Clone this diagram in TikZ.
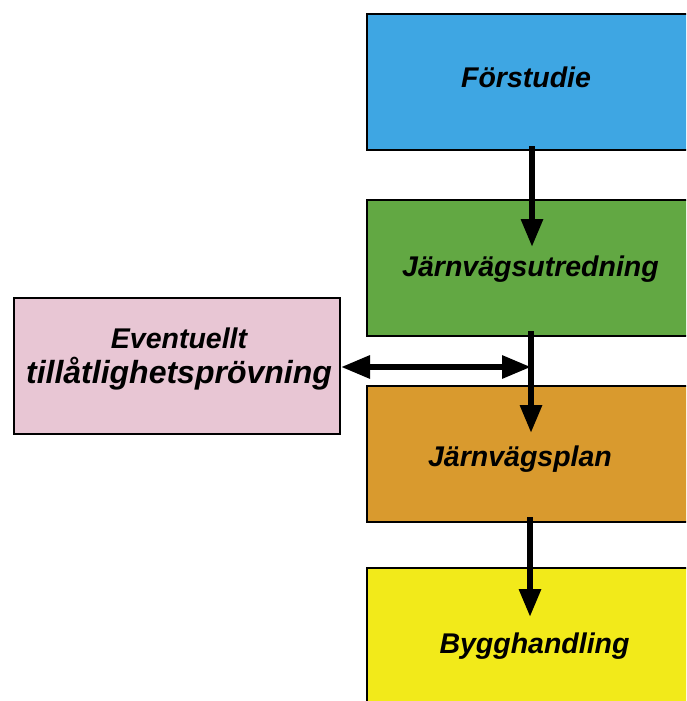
\documentclass[tikz,border=0pt]{standalone}
\usepackage{fontspec}
\setmainfont{Liberation Sans}
\usetikzlibrary{arrows.meta,calc}
\definecolor{cblue}{HTML}{3EA6E3}
\definecolor{cgreen}{HTML}{62A843}
\definecolor{corange}{HTML}{D99A2E}
\definecolor{cyellow}{HTML}{F2EA1A}
\definecolor{cpink}{HTML}{E8C6D4}
\tikzset{
  stagebox/.style={draw=black, line width=2pt, minimum width=325pt, minimum height=136pt, inner sep=0pt},
  lbl/.style={font=\fontsize{28.5}{34}\selectfont\bfseries\itshape, anchor=base, inner sep=0pt},
  arr/.style={line width=6pt, -{Triangle[length=28pt,width=21pt]}},
  darr/.style={line width=6pt, {Triangle[length=29pt,width=22pt]}-{Triangle[length=29pt,width=22pt]}},
}
\begin{document}
\begin{tikzpicture}[x=1pt,y=-1pt]
\useasboundingbox (0,0) rectangle (686,701);
\clip (0,0) rectangle (686,701);
\node[stagebox, fill=cblue] (f) at (529.5,82) {};
\node[stagebox, fill=cgreen] (u) at (529.5,267.5) {};
\node[stagebox, fill=corange] (p) at (529.5,453.5) {};
\node[stagebox, fill=cyellow] (b) at (529.5,636) {};
\node[stagebox, fill=cpink, minimum width=326pt] (e) at (177,366) {};
\node[lbl] (ft) at (526,88) {Förstudie};
\node[lbl] (ut) at (530.5,276) {Järnvägsutredning};
\node[lbl] (pt) at (520,466) {Järnvägsplan};
\node[lbl] (bt) at (534.5,653) {Bygghandling};
\node[lbl] (e1) at (179,348) {Eventuellt};
\node[lbl, font=\fontsize{32}{34}\selectfont\bfseries\itshape] (e2) at (179,383) {tillåtlighetsprövning};
\coordinate (a1s) at (532,146);
\coordinate (a1e) at (532,247);
\coordinate (a2s) at (531,331);
\coordinate (a2e) at (531,433);
\coordinate (a3s) at (530,517);
\coordinate (a3e) at (530,617);
\coordinate (d) at (531,367);
\draw[arr] (a1s) -- (a1e);
\draw[arr] (a2s) -- (a2e);
\draw[arr] (a3s) -- (a3e);
\draw[darr] (e.east |- d) -- (d);
\end{tikzpicture}
\end{document}
